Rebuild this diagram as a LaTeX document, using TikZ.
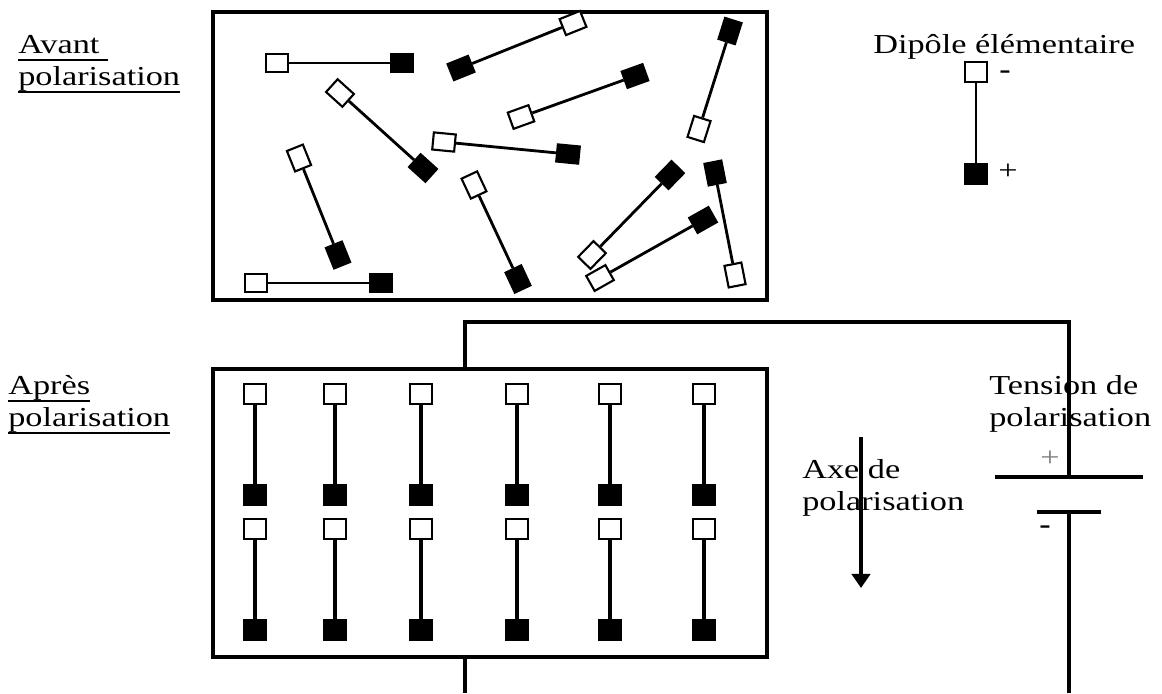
\documentclass[tikz,border=0pt]{standalone}
\usepackage{fontspec}
\setmainfont{Liberation Serif}[FakeStretch=1.25]
\usetikzlibrary{arrows.meta,positioning}
\newcommand{\souligne}[1]{\setbox0\hbox{#1}\rlap{\rule[-5.2pt]{\wd0}{1.4pt}}\box0}

\begin{document}
\begin{tikzpicture}[x=0.025cm,y=-0.025cm,
    etiq/.style={inner sep=0pt,font=\fontsize{19.5}{23}\selectfont,align=left},
    signe/.style={inner sep=0pt,anchor=base,font=\fontsize{19.5}{23}\selectfont},
    cadre/.style={draw,line width=2.6pt,inner sep=0pt,minimum width=13.85cm,minimum height=7.2cm},
    pneg/.style={draw,fill=white,line width=1.5pt,inner sep=0pt,minimum width=0.55cm,minimum height=0.43cm},
    ppos/.style={pneg,fill=black},
    liaison/.style={line width=2pt},
    fil/.style={line width=2.6pt}]
    \useasboundingbox (0,0) rectangle (1162,693);

    % avant polarisation
    \node[etiq,anchor=north west] (av) at (18,35) {\souligne{Avant\ }\\\souligne{polarisation}};
    \node[cadre] (avant) at (490,156) {};
    \foreach \i/\xa/\ya/\xb/\yb in {1/277/63/402/63, 2/573/23/461/68, 3/340/93/423/168,
        4/521/117/635/76, 5/444/142/568/154, 6/299/158/338/255, 7/474/185/518/279,
        8/256/283/381/283, 9/592/255/670/175, 10/600/278/703/220, 11/699/129/730/31,
        12/735/275/715/173}{
        \pgfmathsetmacro\ang{atan2(\ya-\yb,\xb-\xa)}
        \node[pneg,rotate=\ang] (n\i) at (\xa,\ya) {};
        \node[ppos,rotate=\ang] (p\i) at (\xb,\yb) {};
        \draw[liaison] (n\i) -- (p\i);
    }

    % dipole elementaire
    \node[etiq,anchor=base west] (titre) at (873,53) {Dipôle élémentaire};
    \node[pneg,minimum height=0.5cm] (dn) at (976,72) {};
    \node[ppos,minimum height=0.5cm] (dp) at (976,174) {};
    \draw[liaison] (dn) -- (dp);
    \node[signe] (dns) at (1005,78) {\textbf{-}};
    \node[signe] (dps) at (1008,179) {+};

    % apres polarisation
    \node[etiq,anchor=north west] (ap) at (8,375) {\souligne{Après}\\\souligne{polarisation}};
    \node[cadre] (apres) at (490,513) {};
    \foreach \x [count=\k] in {255,335,421,517,610,704}
        \foreach \y [count=\r] in {394,529}{
            \node[pneg,minimum width=0.55cm,minimum height=0.48cm] (bn\k\r) at (\x,\y) {};
            \node[ppos,minimum width=0.55cm,minimum height=0.48cm] (bp\k\r) at (\x,\y+101) {};
            \draw[line width=2.4pt] (bn\k\r) -- (bp\k\r);
        }

    % axe et tension
    \node[etiq,anchor=north west] (axe) at (802,459) {Axe de\\polarisation};
    \node[etiq,anchor=north west] (tens) at (989,375) {Tension de\\polarisation};
    \coordinate (a1) at (861,437);
    \coordinate (a2) at (861,588);
    \draw[fil,-{Triangle[width=13pt,length=10pt]}] (a1) -- (a2);

    \coordinate (coin) at (465,322);
    \coordinate (pp) at (1069,477);
    \coordinate (pm) at (1069,512);
    \coordinate (bas) at (1069,693);
    \draw[fil] (coin |- apres.north) -- (coin) -| (pp);
    \draw[fil] (coin |- apres.south) -- (coin |- bas);
    \draw[fil] (pm) -- (bas);
    \draw[fil] (pp) ++(-74,0) -- ++(148,0);
    \draw[fil] (pm) ++(-32,0) -- ++(64,0);
    \node[signe,text=black!50] (pps) at (1050,466) {+};
    \node[signe] (pms) at (1045,533) {\textbf{-}};
\end{tikzpicture}
\end{document}
